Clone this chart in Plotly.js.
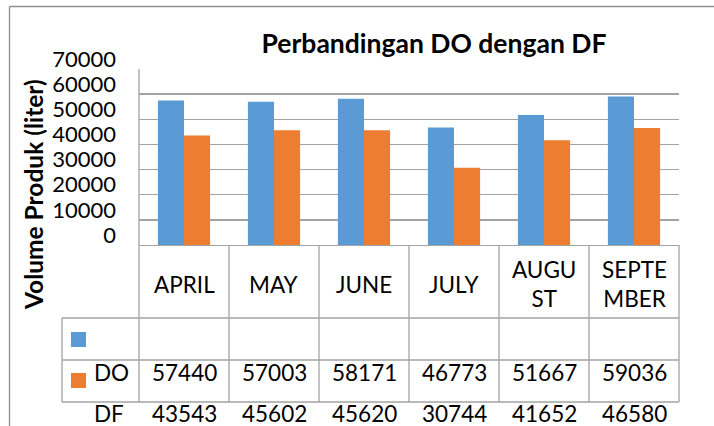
<!DOCTYPE html>
<html>
<head>
<meta charset="utf-8">
<script src="https://cdn.plot.ly/plotly-3.0.1.min.js"></script>
<style>html,body{margin:0;padding:0;background:#fff;}#chart{width:714px;height:426px;}</style>
</head>
<body>
<div id="chart"></div>
<script>
// ---- data ----
var months = ['APRIL', 'MAY', 'JUNE', 'JULY', 'AUGUST', 'SEPTEMBER'];
var monthLabels = ['APRIL', 'MAY', 'JUNE', 'JULY', 'AUGU<br>ST', 'SEPTE<br>MBER'];
var doValues = [57440, 57003, 58171, 46773, 51667, 59036];
var dfValues = [43543, 45602, 45620, 30744, 41652, 46580];
var seriesNames = ['DO', 'DF'];
var yTickVals = [0, 10000, 20000, 30000, 40000, 50000, 60000, 70000];
var chartTitle = 'Perbandingan DO dengan DF';
var yTitle = 'Volume Produk (liter)';

// ---- style ----
var W = 714, H = 426;
var blue = '#5B9BD5', orange = '#ED7D31';
var gridCol = '#a3a3a3';
var fontFam = 'Lato, "Open Sans", sans-serif';
var plotL = 139, plotR = 679, plotT = 69, plotB = 245;
// pixel -> paper (plot-area relative) coordinates
function xp(px) { return (px - plotL) / (plotR - plotL); }
function yp(py) { return (plotB - py) / (plotB - plotT); }

var tableLeft = 62, rowLines = [318, 360, 402];
var colW = (plotR - plotL) / months.length;

var traces = [
  { type: 'bar', name: seriesNames[0], x: months, y: doValues, marker: { color: blue } },
  { type: 'bar', name: seriesNames[1], x: months, y: dfValues, marker: { color: orange } }
];

var shapes = [];
function line(x0, y0, x1, y1, col, w) {
  shapes.push({ type: 'line', xref: 'paper', yref: 'paper', x0: xp(x0), x1: xp(x1), y0: yp(y0), y1: yp(y1),
    line: { color: col || gridCol, width: w || 1.3 } });
}
// outer chart border
line(9.5, 6.5, W + 5, 6.5, '#8f8f8f', 1.3);
line(9.5, 6.5, 9.5, H + 5, '#8f8f8f', 1.3);
// table horizontal lines
rowLines.forEach(function (r) { line(tableLeft, r, plotR, r); });
// table vertical lines
line(tableLeft, rowLines[0], tableLeft, rowLines[2]);
line(plotL, plotT, plotL, rowLines[2]);
for (var k = 1; k <= months.length; k++) {
  line(plotL + k * colW, plotB, plotL + k * colW, rowLines[2]);
}
// legend keys
shapes.push({ type: 'rect', xref: 'paper', yref: 'paper', x0: xp(71), x1: xp(86), y0: yp(332), y1: yp(347),
  fillcolor: blue, line: { width: 0 } });
shapes.push({ type: 'rect', xref: 'paper', yref: 'paper', x0: xp(71), x1: xp(86), y0: yp(373), y1: yp(388),
  fillcolor: orange, line: { width: 0 } });

var tfont = { family: fontFam, size: 22.5, color: '#000' };
var annotations = [];
months.forEach(function (m, i) {
  annotations.push({ x: m, xref: 'x', y: yp(284), yref: 'paper', text: monthLabels[i], showarrow: false,
    xanchor: 'center', yanchor: 'middle', font: tfont });
  annotations.push({ x: m, xref: 'x', y: yp(372), yref: 'paper', text: String(doValues[i]), showarrow: false,
    xanchor: 'center', yanchor: 'middle', font: tfont });
  annotations.push({ x: m, xref: 'x', y: yp(413), yref: 'paper', text: String(dfValues[i]), showarrow: false,
    xanchor: 'center', yanchor: 'middle', font: tfont });
});
annotations.push({ x: xp(92), xref: 'paper', y: yp(372), yref: 'paper', text: seriesNames[0], showarrow: false,
  xanchor: 'left', yanchor: 'middle', font: tfont });
annotations.push({ x: xp(92), xref: 'paper', y: yp(413), yref: 'paper', text: seriesNames[1], showarrow: false,
  xanchor: 'left', yanchor: 'middle', font: tfont });
annotations.push({ x: xp(33), xref: 'paper', y: yp(195), yref: 'paper', text: '<b>' + yTitle + '</b>', showarrow: false,
  textangle: -90, xanchor: 'center', yanchor: 'middle', font: { family: fontFam, size: 24.5, color: '#000' } });

var layout = {
  width: W, height: H,
  margin: { l: plotL, r: W - plotR, t: plotT, b: H - plotB, pad: 0 },
  paper_bgcolor: '#fff', plot_bgcolor: '#fff',
  showlegend: false,
  barmode: 'group', bargap: 0.42, bargroupgap: 0,
  title: { text: '<b>' + chartTitle + '</b>', x: 434 / W, xanchor: 'center', xref: 'container',
    y: 1 - 44 / H, yanchor: 'middle', yref: 'container', font: { family: fontFam, size: 26.5, color: '#000' } },
  xaxis: { type: 'category', showticklabels: false, ticks: '', showgrid: false, zeroline: false,
    showline: true, linecolor: gridCol, linewidth: 1.3, fixedrange: true },
  yaxis: { range: [0, 70000], tickvals: yTickVals, ticktext: yTickVals.map(String), showgrid: true,
    gridcolor: gridCol, gridwidth: 1.3, zeroline: false, showline: false, ticks: '',
    ticklabelstandoff: 22, ticklabelshift: -10,
    tickfont: { family: fontFam, size: 22, color: '#000' }, fixedrange: true },
  shapes: shapes,
  annotations: annotations
};

Plotly.newPlot('chart', traces, layout, { staticPlot: true, displayModeBar: false });
</script>
</body>
</html>
